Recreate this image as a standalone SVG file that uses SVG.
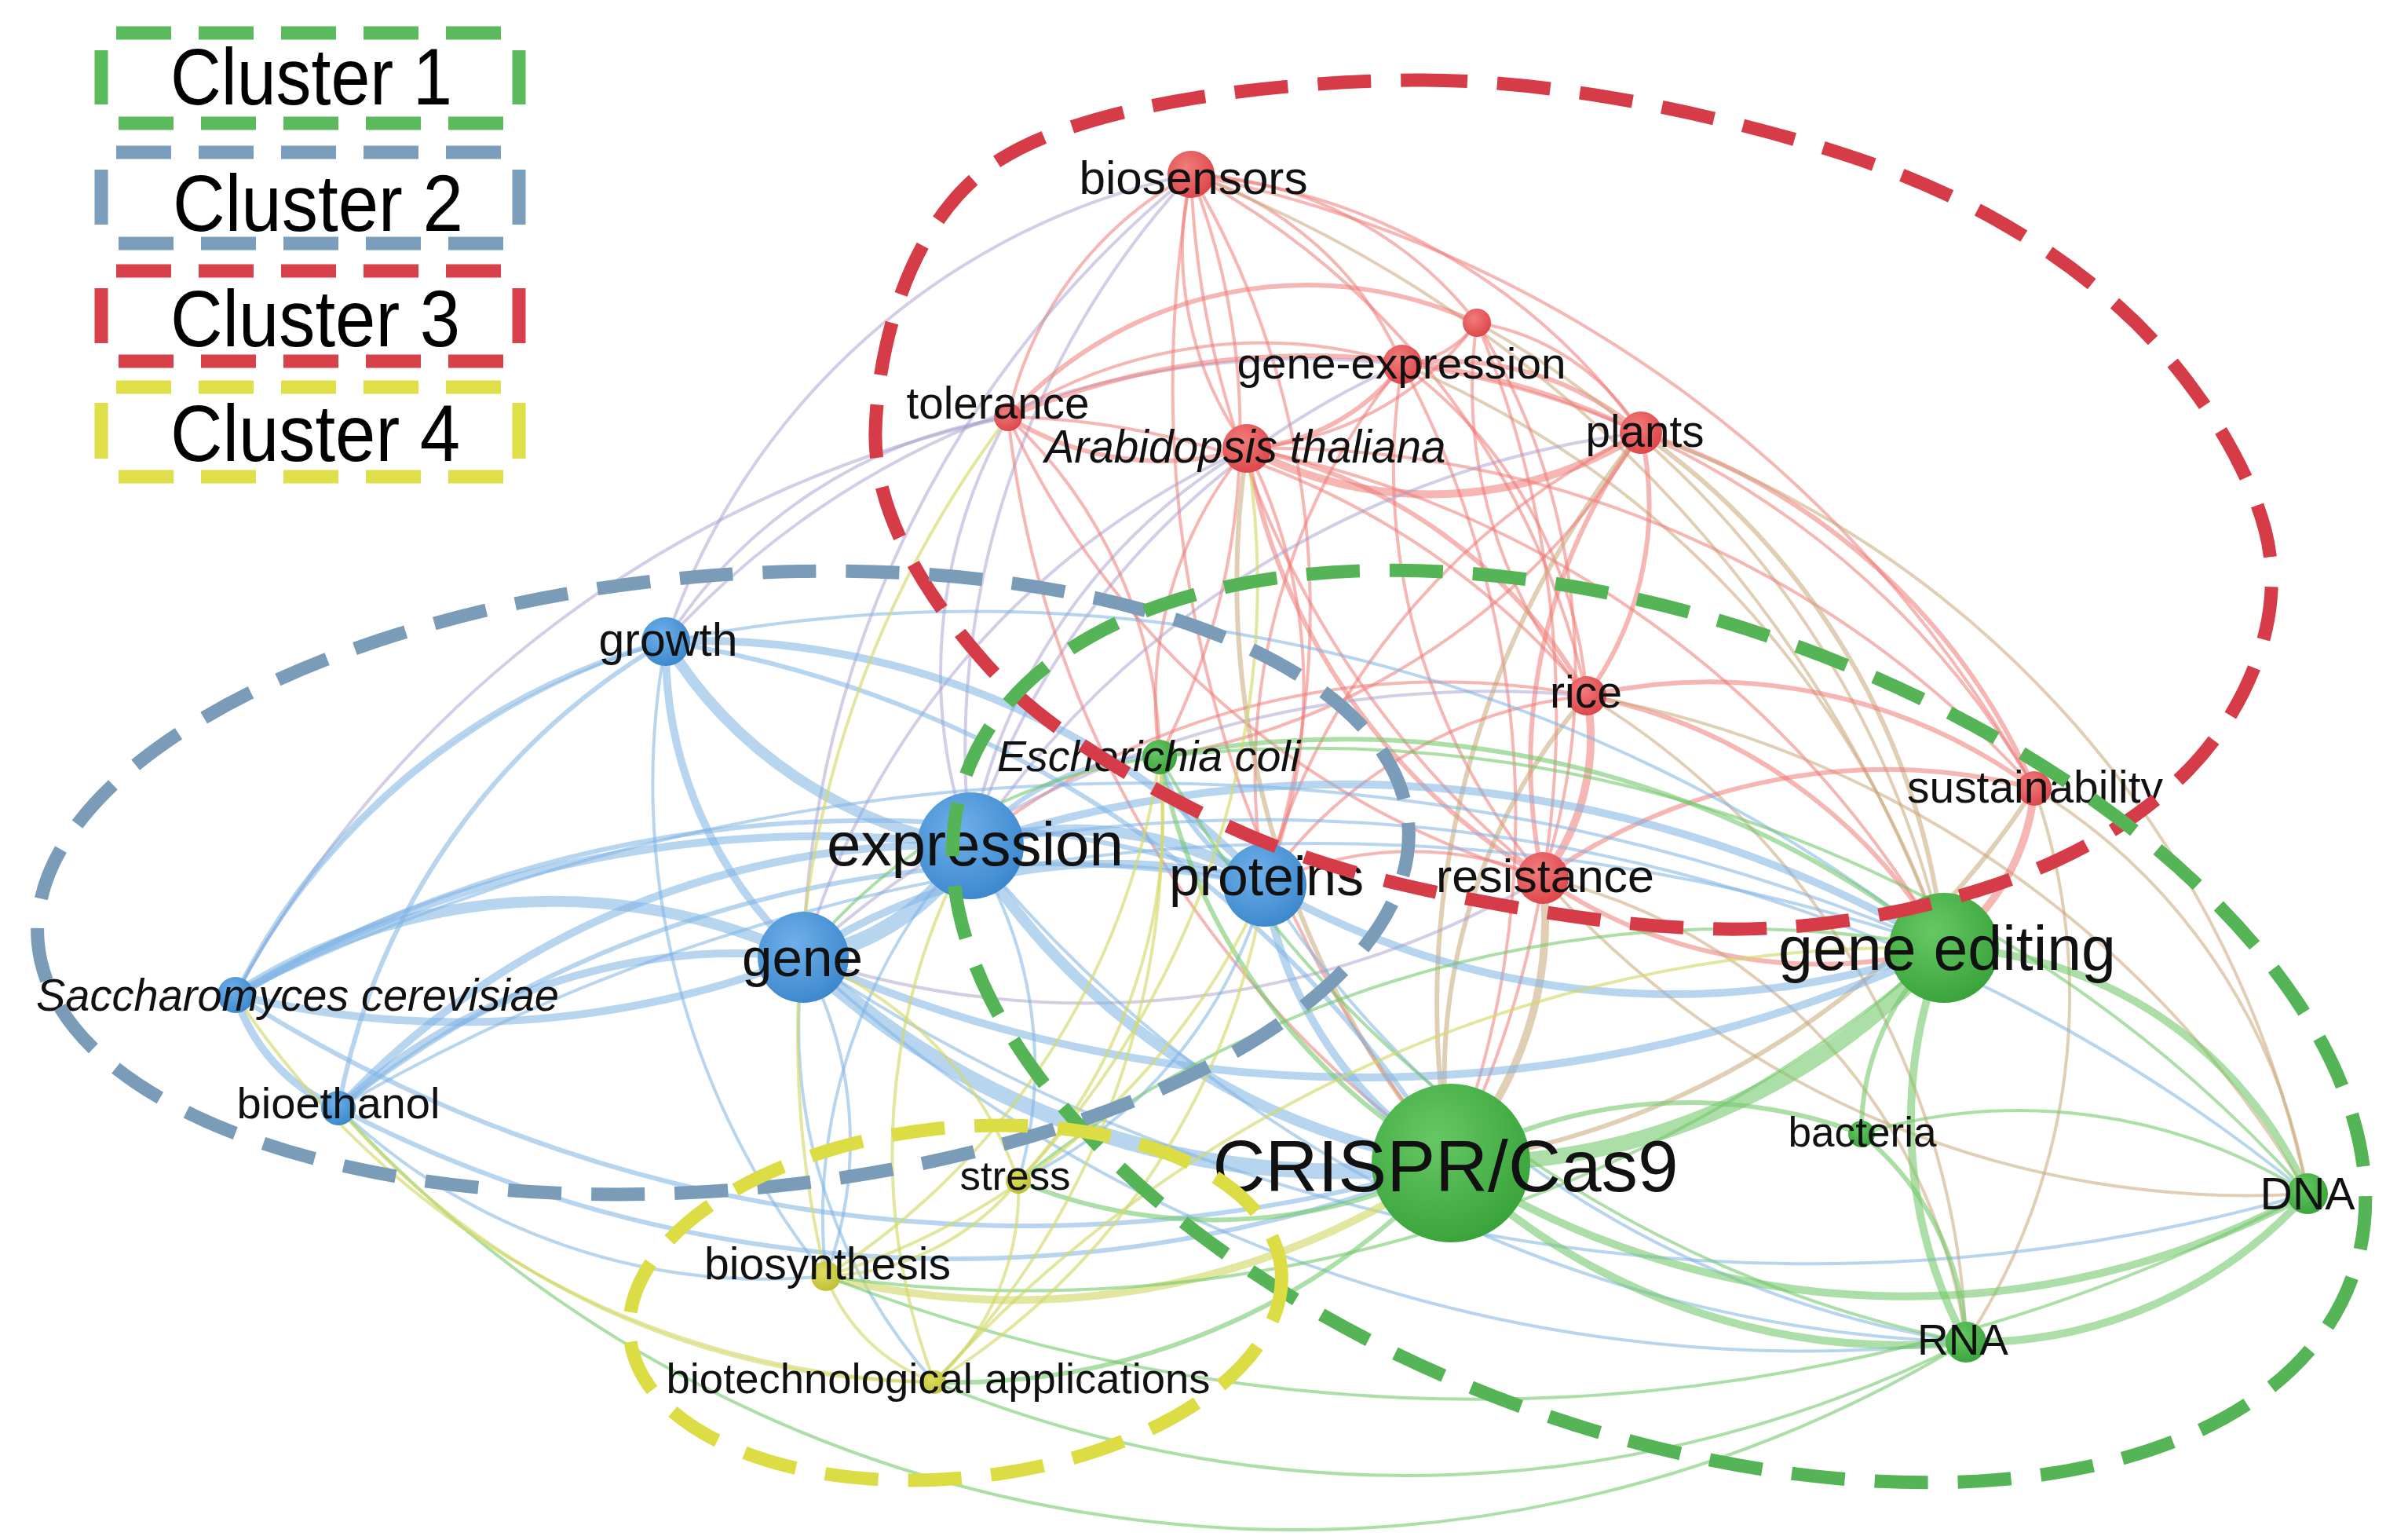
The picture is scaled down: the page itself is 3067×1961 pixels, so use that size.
<svg xmlns="http://www.w3.org/2000/svg" width="3067" height="1961" viewBox="0 0 3067 1961">
<defs>
<radialGradient id="gr" cx="0.4" cy="0.35" r="0.7"><stop offset="0" stop-color="#F27C7C"/><stop offset="1" stop-color="#DC4448"/></radialGradient>
<radialGradient id="gb" cx="0.4" cy="0.35" r="0.7"><stop offset="0" stop-color="#6FB0EA"/><stop offset="1" stop-color="#3A86CC"/></radialGradient>
<radialGradient id="gg" cx="0.4" cy="0.35" r="0.7"><stop offset="0" stop-color="#66C864"/><stop offset="1" stop-color="#38A23A"/></radialGradient>
<radialGradient id="gy" cx="0.4" cy="0.35" r="0.7"><stop offset="0" stop-color="#DEDE60"/><stop offset="1" stop-color="#BDBF34"/></radialGradient>
</defs>
<style>
text{font-family:"Liberation Sans",Arial,sans-serif;fill:#111;text-anchor:middle;}
.it{font-style:italic;}
.leg text{text-anchor:start;fill:#000;}
#edges path{fill:none;stroke-linecap:round;}
.er{stroke:#EE7A77;stroke-opacity:.55;}
.eb{stroke:#7DB3E4;stroke-opacity:.55;}
.eg{stroke:#74C86C;stroke-opacity:.6;}
.ey{stroke:#D3D96A;stroke-opacity:.65;}
.eo{stroke:#C9A878;stroke-opacity:.55;}
.ep{stroke:#A79BCB;stroke-opacity:.5;}
.w1{stroke-width:4;}
.w2{stroke-width:6;}
.w3{stroke-width:10;}
.w4{stroke-width:14;}
.w5{stroke-width:20;}
.nr{fill:url(#gr);}
.nb{fill:url(#gb);}
.ng{fill:url(#gg);}
.ny{fill:url(#gy);}
.cl{fill:none;stroke-width:17;stroke-dasharray:68 38;}
.ld{stroke-width:17;fill:none;}
.ldh{stroke-dasharray:70 35;}
</style>
<rect width="3067" height="1961" fill="#fff"/>

<g id="edges">
<path class="er w1" d="M1517 222A430 430 0 0 1 1786 464"/>
<path class="er w1" d="M1517 222A430 430 0 0 0 1588 571"/>
<path class="er w1" d="M1517 222A460 460 0 0 0 1284 531"/>
<path class="er w1" d="M1517 222A790 790 0 0 1 2090 551"/>
<path class="er w1" d="M1517 222A1000 1000 0 0 1 2021 886"/>
<path class="er w1" d="M1517 222A1200 1200 0 0 0 1965 1118"/>
<path class="er w1" d="M1517 222A490 490 0 0 1 1881 411"/>
<path class="ep w1" d="M1517 222A1080 1080 0 0 0 1236 1077"/>
<path class="er w1" d="M1517 222A1090 1090 0 0 1 1611 1127"/>
<path class="er w1" d="M1517 222A1560 1560 0 0 0 1848 1481"/>
<path class="eo w1" d="M1517 222A1650 1650 0 0 1 2476 1207"/>
<path class="ep w1" d="M1517 222A1330 1330 0 0 0 1023 1219"/>
<path class="er w1" d="M1517 222A890 890 0 0 1 1477 964"/>
<path class="er w1" d="M1517 222A1590 1590 0 0 1 2591 1004"/>
<path class="ep w1" d="M1517 222A900 900 0 0 0 848 817"/>
<path class="er w2" d="M1786 464A270 270 0 0 1 1588 571"/>
<path class="er w2" d="M1786 464A380 380 0 0 1 2090 551"/>
<path class="er w1" d="M1786 464A130 130 0 0 0 1881 411"/>
<path class="er w1" d="M1786 464A600 600 0 0 0 1284 531"/>
<path class="er w1" d="M1786 464A580 580 0 0 1 2021 886"/>
<path class="er w1" d="M1786 464A810 810 0 0 0 1965 1118"/>
<path class="ep w1" d="M1786 464A990 990 0 0 0 1236 1077"/>
<path class="er w1" d="M1786 464A1220 1220 0 0 1 1848 1481"/>
<path class="eo w1" d="M1786 464A1220 1220 0 0 1 2476 1207"/>
<path class="er w1" d="M1786 464A820 820 0 0 0 1611 1127"/>
<path class="ep w1" d="M1786 464A1100 1100 0 0 0 848 817"/>
<path class="er w1" d="M1786 464A1100 1100 0 0 1 2591 1004"/>
<path class="er w1" d="M1881 411A400 400 0 0 1 1588 571"/>
<path class="er w1" d="M1881 411A300 300 0 0 1 2090 551"/>
<path class="er w2" d="M1284 531A514 514 0 0 1 1881 411"/>
<path class="er w1" d="M1881 411A1280 1280 0 0 1 1848 1481"/>
<path class="er w1" d="M1881 411A850 850 0 0 1 1965 1118"/>
<path class="er w1" d="M1881 411A600 600 0 0 0 2021 886"/>
<path class="eo w1" d="M1881 411A1200 1200 0 0 1 2476 1207"/>
<path class="er w3" d="M1588 571A497 497 0 0 0 2090 551"/>
<path class="er w2" d="M1588 571A370 370 0 0 1 1284 531"/>
<path class="er w2" d="M1588 571A640 640 0 0 1 2021 886"/>
<path class="er w2" d="M1588 571A800 800 0 0 0 1965 1118"/>
<path class="ep w1" d="M1588 571A740 740 0 0 0 1236 1077"/>
<path class="er w1" d="M1588 571A670 670 0 0 1 1611 1127"/>
<path class="eo w2" d="M1588 571A1140 1140 0 0 0 1848 1481"/>
<path class="er w1" d="M1588 571A1310 1310 0 0 1 2476 1207"/>
<path class="ep w1" d="M1588 571A1030 1030 0 0 0 1023 1219"/>
<path class="er w1" d="M1588 571A1310 1310 0 0 1 2591 1004"/>
<path class="er w1" d="M1588 571A500 500 0 0 0 1477 964"/>
<path class="er w2" d="M1284 531A970 970 0 0 1 2090 551"/>
<path class="er w1" d="M1284 531A1080 1080 0 0 0 1965 1118"/>
<path class="er w1" d="M1284 531A980 980 0 0 1 2021 886"/>
<path class="er w1" d="M1284 531A1330 1330 0 0 0 1848 1481"/>
<path class="ep w1" d="M1284 531A660 660 0 0 0 1236 1077"/>
<path class="ep w1" d="M1284 531A630 630 0 0 0 848 817"/>
<path class="ep w1" d="M1284 531A1470 1470 0 0 0 300 1267"/>
<path class="er w1" d="M1284 531A600 600 0 0 1 1477 964"/>
<path class="er w2" d="M2090 551A410 410 0 0 1 2021 886"/>
<path class="er w2" d="M2090 551A700 700 0 0 0 1965 1118"/>
<path class="er w2" d="M2090 551A810 810 0 0 1 2591 1004"/>
<path class="eo w2" d="M2090 551A910 910 0 0 1 2476 1207"/>
<path class="eo w2" d="M2090 551A1150 1150 0 0 0 1848 1481"/>
<path class="er w1" d="M2090 551A900 900 0 0 0 1611 1127"/>
<path class="ep w1" d="M2090 551A1200 1200 0 0 0 1236 1077"/>
<path class="er w1" d="M2090 551A890 890 0 0 1 1477 964"/>
<path class="eo w1" d="M2090 551A1300 1300 0 0 1 2939 1520"/>
<path class="er w3" d="M2021 886A290 290 0 0 1 1965 1118"/>
<path class="er w2" d="M2021 886A700 700 0 0 1 2591 1004"/>
<path class="er w2" d="M2021 886A670 670 0 0 1 2476 1207"/>
<path class="eo w2" d="M2021 886A740 740 0 0 0 1848 1481"/>
<path class="er w1" d="M2021 886A570 570 0 0 0 1611 1127"/>
<path class="er w1" d="M2021 886A970 970 0 0 0 1236 1077"/>
<path class="eo w1" d="M2021 886A1340 1340 0 0 1 2939 1520"/>
<path class="ep w1" d="M2021 886A1300 1300 0 0 0 1023 1219"/>
<path class="eo w1" d="M2021 886A1000 1000 0 0 1 2504 1709"/>
<path class="er w2" d="M1965 1118A760 760 0 0 1 2591 1004"/>
<path class="er w2" d="M1965 1118A620 620 0 0 0 2476 1207"/>
<path class="eo w3" d="M1965 1118A460 460 0 0 1 1848 1481"/>
<path class="er w1" d="M1965 1118A430 430 0 0 0 1611 1127"/>
<path class="ep w1" d="M1965 1118A1140 1140 0 0 1 1023 1219"/>
<path class="eo w1" d="M1965 1118A1200 1200 0 0 0 2939 1520"/>
<path class="eo w1" d="M1965 1118A700 700 0 0 1 2504 1709"/>
<path class="er w3" d="M2591 1004A280 280 0 0 1 2476 1207"/>
<path class="eo w2" d="M2591 1004A1060 1060 0 0 1 1848 1481"/>
<path class="eo w1" d="M2591 1004A750 750 0 0 1 2939 1520"/>
<path class="eo w1" d="M2591 1004A800 800 0 0 1 2504 1709"/>

<path class="eb w4" d="M848 817A560 560 0 0 0 1236 1077"/>
<path class="eb w3" d="M848 817A530 530 0 0 0 1023 1219"/>
<path class="eb w3" d="M848 817A990 990 0 0 1 1611 1127"/>
<path class="eb w2" d="M848 817A850 850 0 0 0 300 1267"/>
<path class="eb w2" d="M848 817A870 870 0 0 0 431 1411"/>
<path class="eb w2" d="M848 817A1440 1440 0 0 1 1848 1481"/>
<path class="eb w1" d="M848 817A2000 2000 0 0 1 2476 1207"/>
<path class="eb w1" d="M848 817A1000 1000 0 0 0 1052 1625"/>
<path class="eb w5" d="M1236 1077A310 310 0 0 1 1023 1219"/>
<path class="eb w4" d="M1236 1077A450 450 0 0 1 1611 1127"/>
<path class="eb w3" d="M300 1267A1480 1480 0 0 1 1236 1077"/>
<path class="eb w3" d="M431 1411A1050 1050 0 0 1 1236 1077"/>
<path class="eb w4" d="M1236 1077A880 880 0 0 0 1848 1481"/>
<path class="eb w3" d="M1236 1077A1500 1500 0 0 1 2476 1207"/>
<path class="eb w2" d="M1236 1077A320 320 0 0 1 1477 964"/>
<path class="eb w1" d="M1236 1077A520 520 0 0 1 1297 1504"/>
<path class="eb w1" d="M1236 1077A690 690 0 0 0 1052 1625"/>
<path class="eb w1" d="M1236 1077A1700 1700 0 0 0 2504 1709"/>
<path class="eb w1" d="M1236 1077A2100 2100 0 0 1 2939 1520"/>
<path class="eb w3" d="M1023 1219A710 710 0 0 1 1611 1127"/>
<path class="eb w4" d="M300 1267A746 746 0 0 1 1023 1219"/>
<path class="eb w3" d="M300 1267A1200 1200 0 0 0 1023 1219"/>
<path class="eb w3" d="M431 1411A750 750 0 0 1 1023 1219"/>
<path class="eb w5" d="M1023 1219A990 990 0 0 0 1848 1481"/>
<path class="eb w3" d="M1023 1219A1740 1740 0 0 0 2476 1207"/>
<path class="eb w1" d="M1023 1219A490 490 0 0 1 1052 1625"/>
<path class="eb w1" d="M1023 1219A680 680 0 0 0 1190 1760"/>
<path class="eb w1" d="M1023 1219A2300 2300 0 0 0 2939 1520"/>
<path class="eb w1" d="M1023 1219A1870 1870 0 0 0 2504 1709"/>
<path class="eb w3" d="M1611 1127A510 510 0 0 0 1848 1481"/>
<path class="eb w3" d="M1611 1127A1040 1040 0 0 0 2476 1207"/>
<path class="eb w2" d="M1611 1127A250 250 0 0 1 1477 964"/>
<path class="eb w2" d="M300 1267A1580 1580 0 0 1 1611 1127"/>
<path class="eb w2" d="M431 1411A1460 1460 0 0 1 1611 1127"/>
<path class="eb w1" d="M1611 1127A1280 1280 0 0 0 2504 1709"/>
<path class="eb w1" d="M1611 1127A590 590 0 0 1 1297 1504"/>
<path class="eb w3" d="M300 1267A230 230 0 0 0 431 1411"/>
<path class="eb w2" d="M300 1267A1870 1870 0 0 0 1848 1481"/>
<path class="eb w1" d="M300 1267A2600 2600 0 0 1 2476 1207"/>
<path class="eb w2" d="M431 1411A1700 1700 0 0 0 1848 1481"/>
<path class="eb w1" d="M431 1411A790 790 0 0 0 1052 1625"/>
<path class="eb w1" d="M431 1411A2470 2470 0 0 1 2476 1207"/>
<path class="eb w1" d="M300 1267A900 900 0 0 1 848 817"/>

<path class="eg w5" d="M1848 1481A820 820 0 0 0 2476 1207"/>
<path class="eg w3" d="M1848 1481A1070 1070 0 0 0 2939 1520"/>
<path class="eg w3" d="M1848 1481A830 830 0 0 0 2504 1709"/>
<path class="eg w2" d="M1848 1481A630 630 0 0 1 2371 1444"/>
<path class="eg w2" d="M1848 1481A760 760 0 0 1 1477 964"/>
<path class="eg w2" d="M1848 1481A660 660 0 0 1 1297 1504"/>
<path class="ey w3" d="M1848 1481A970 970 0 0 1 1052 1625"/>
<path class="eg w2" d="M1848 1481A860 860 0 0 1 1190 1760"/>
<path class="eg w3" d="M2476 1207A520 520 0 0 1 2939 1520"/>
<path class="eg w3" d="M2476 1207A600 600 0 0 0 2504 1709"/>
<path class="eg w2" d="M2476 1207A310 310 0 0 0 2371 1444"/>
<path class="eg w2" d="M2476 1207A1230 1230 0 0 0 1477 964"/>
<path class="eg w1" d="M2476 1207A1460 1460 0 0 0 1297 1504"/>
<path class="eg w1" d="M2476 1207A1780 1780 0 0 1 1052 1625"/>
<path class="eg w3" d="M2504 1709A570 570 0 0 0 2939 1520"/>
<path class="eg w2" d="M2371 1444A360 360 0 0 1 2504 1709"/>
<path class="eg w1" d="M2371 1444A690 690 0 0 1 2939 1520"/>
<path class="eg w1" d="M1477 964A1520 1520 0 0 0 2504 1709"/>
<path class="eg w1" d="M1477 964A1700 1700 0 0 1 2939 1520"/>
<path class="eg w1" d="M2504 1709A1580 1580 0 0 1 1190 1760"/>
<path class="eg w1" d="M2939 1520A2270 2270 0 0 1 1052 1625"/>
<path class="eg w1" d="M1477 964A700 700 0 0 0 1023 1219"/>
<path class="eg w1" d="M431 1411A1650 1650 0 0 0 2504 1709"/>

<path class="ey w1" d="M1297 1504A330 330 0 0 1 1052 1625"/>
<path class="ey w1" d="M1297 1504A330 330 0 0 1 1190 1760"/>
<path class="ey w1" d="M1052 1625A230 230 0 0 0 1190 1760"/>
<path class="ey w1" d="M1190 1760A820 820 0 0 1 1236 1077"/>
<path class="ey w1" d="M1190 1760A910 910 0 0 0 1611 1127"/>
<path class="ey w1" d="M1190 1760A1020 1020 0 0 0 1477 964"/>
<path class="ey w1" d="M1297 1504A470 470 0 0 0 1023 1219"/>
<path class="ey w1" d="M1052 1625A900 900 0 0 0 1611 1127"/>
<path class="ey w1" d="M1052 1625A940 940 0 0 0 1477 964"/>
<path class="ey w1" d="M1297 1504A680 680 0 0 0 1477 964"/>
<path class="ey w1" d="M1190 1760A1680 1680 0 0 1 2476 1207"/>
<path class="ey w1" d="M1190 1760A1000 1000 0 0 1 431 1411"/>
<path class="ey w1" d="M1052 1625A1300 1300 0 0 1 1284 531"/>
<path class="ey w1" d="M1190 1760A1100 1100 0 0 1 300 1267"/>
<path class="ey w1" d="M1297 1504A1100 1100 0 0 0 1588 571"/>
</g>

<g id="n-biosensors"><circle class="nr" cx="1517" cy="222" r="30"/><text x="1520" y="247" font-size="60" textLength="291" lengthAdjust="spacingAndGlyphs">biosensors</text></g>
<g id="n-red-small"><circle class="nr" cx="1881" cy="411" r="18"/></g>
<g id="n-gene-expression"><circle class="nr" cx="1786" cy="464" r="25"/><text x="1785" y="482" font-size="56" textLength="419" lengthAdjust="spacingAndGlyphs">gene-expression</text></g>
<g id="n-tolerance"><circle class="nr" cx="1284" cy="531" r="18"/><text x="1271" y="533" font-size="57" textLength="233" lengthAdjust="spacingAndGlyphs">tolerance</text></g>
<g id="n-arabidopsis"><circle class="nr" cx="1588" cy="571" r="31"/><text class="it" x="1586" y="589" font-size="60" textLength="511" lengthAdjust="spacingAndGlyphs">Arabidopsis thaliana</text></g>
<g id="n-plants"><circle class="nr" cx="2090" cy="551" r="27"/><text x="2095" y="569" font-size="57" textLength="151" lengthAdjust="spacingAndGlyphs">plants</text></g>
<g id="n-rice"><circle class="nr" cx="2021" cy="886" r="25"/><text x="2020" y="901" font-size="57" textLength="92" lengthAdjust="spacingAndGlyphs">rice</text></g>
<g id="n-sustainability"><circle class="nr" cx="2591" cy="1004" r="22"/><text x="2592" y="1022" font-size="57" textLength="326" lengthAdjust="spacingAndGlyphs">sustainability</text></g>
<g id="n-resistance"><circle class="nr" cx="1965" cy="1118" r="33"/><text x="1968" y="1136" font-size="60" textLength="278" lengthAdjust="spacingAndGlyphs">resistance</text></g>

<g id="n-growth"><circle class="nb" cx="848" cy="817" r="31"/><text x="851" y="835" font-size="59" textLength="177" lengthAdjust="spacingAndGlyphs">growth</text></g>
<g id="n-expression"><circle class="nb" cx="1236" cy="1077" r="68"/><text x="1242" y="1102" font-size="78" textLength="378" lengthAdjust="spacingAndGlyphs">expression</text></g>
<g id="n-proteins"><circle class="nb" cx="1611" cy="1127" r="53"/><text x="1613" y="1140" font-size="70" textLength="248" lengthAdjust="spacingAndGlyphs">proteins</text></g>
<g id="n-gene"><circle class="nb" cx="1023" cy="1219" r="58"/><text x="1022" y="1243" font-size="69" textLength="154" lengthAdjust="spacingAndGlyphs">gene</text></g>
<g id="n-saccharomyces"><circle class="nb" cx="300" cy="1267" r="23"/><text class="it" x="379" y="1287" font-size="56.5" textLength="666" lengthAdjust="spacingAndGlyphs">Saccharomyces cerevisiae</text></g>
<g id="n-bioethanol"><circle class="nb" cx="431" cy="1411" r="22"/><text x="431" y="1424" font-size="56" textLength="259" lengthAdjust="spacingAndGlyphs">bioethanol</text></g>

<g id="n-ecoli"><circle class="ng" cx="1477" cy="964" r="22"/><text class="it" x="1463" y="982" font-size="55.6" textLength="386" lengthAdjust="spacingAndGlyphs">Escherichia coli</text></g>
<g id="n-gene-editing"><circle class="ng" cx="2476" cy="1207" r="70"/><text x="2480" y="1235" font-size="79" textLength="430" lengthAdjust="spacingAndGlyphs">gene editing</text></g>
<g id="n-crispr"><circle class="ng" cx="1848" cy="1481" r="101"/><text x="1841" y="1517" font-size="92" textLength="593" lengthAdjust="spacingAndGlyphs">CRISPR/Cas9</text></g>
<g id="n-bacteria"><circle class="ng" cx="2371" cy="1444" r="17"/><text x="2372" y="1460" font-size="53" textLength="189" lengthAdjust="spacingAndGlyphs">bacteria</text></g>
<g id="n-dna"><circle class="ng" cx="2939" cy="1520" r="26"/><text x="2939" y="1540" font-size="58" textLength="121" lengthAdjust="spacingAndGlyphs">DNA</text></g>
<g id="n-rna"><circle class="ng" cx="2504" cy="1709" r="26"/><text x="2500" y="1725" font-size="55" textLength="116" lengthAdjust="spacingAndGlyphs">RNA</text></g>

<g id="n-stress"><circle class="ny" cx="1297" cy="1504" r="16"/><text x="1293" y="1515" font-size="52" textLength="141" lengthAdjust="spacingAndGlyphs">stress</text></g>
<g id="n-biosynthesis"><circle class="ny" cx="1052" cy="1625" r="19"/><text x="1054" y="1629" font-size="57" textLength="314" lengthAdjust="spacingAndGlyphs">biosynthesis</text></g>
<g id="n-biotech"><circle class="ny" cx="1190" cy="1760" r="15"/><text x="1195" y="1774" font-size="54.4" textLength="693" lengthAdjust="spacingAndGlyphs">biotechnological applications</text></g>

<g id="clusters">
<path id="cluster3" class="cl" stroke="#D63C47" d="M1801 102C1980 100 2197 148 2347 196C2497 244 2609 311 2699 391C2789 471 2862 587 2885 675C2908 763 2880 849 2836 919C2792 989 2716 1051 2621 1095C2527 1139 2393 1173 2269 1181C2145 1190 1999 1169 1878 1146C1757 1123 1649 1094 1545 1043C1441 992 1324 924 1252 841C1180 759 1112 654 1115 548C1118 442 1157 279 1271 205C1385 131 1622 104 1801 102Z"/>
<ellipse id="cluster2" class="cl" stroke="#7A9CB9" cx="921" cy="1124" rx="876" ry="391" transform="rotate(-5 921 1124)"/>
<ellipse id="cluster1" class="cl" stroke="#55B455" cx="2113" cy="1307" rx="939" ry="515" transform="rotate(20 2113 1307)"/>
<ellipse id="cluster4" class="cl" stroke="#DCDC45" cx="1217" cy="1659" rx="417" ry="223" transform="rotate(-6 1217 1659)"/>
</g>

<g id="legend" class="leg">
<g stroke="#5BBA5B">
<line class="ld ldh" x1="148" y1="42" x2="640" y2="42"/>
<line class="ld ldh" x1="151" y1="157" x2="643" y2="157"/>
<line class="ld" x1="129" y1="64" x2="129" y2="133"/>
<line class="ld" x1="661" y1="64" x2="661" y2="133"/>
</g>
<text x="217" y="133" font-size="102" textLength="359" lengthAdjust="spacingAndGlyphs">Cluster 1</text>
<g stroke="#7A9EBC">
<line class="ld ldh" x1="148" y1="194" x2="640" y2="194"/>
<line class="ld ldh" x1="151" y1="310" x2="643" y2="310"/>
<line class="ld" x1="129" y1="216" x2="129" y2="286"/>
<line class="ld" x1="661" y1="216" x2="661" y2="286"/>
</g>
<text x="220" y="294" font-size="102" textLength="370" lengthAdjust="spacingAndGlyphs">Cluster 2</text>
<g stroke="#D8404A">
<line class="ld ldh" x1="148" y1="345" x2="640" y2="345"/>
<line class="ld ldh" x1="151" y1="460" x2="643" y2="460"/>
<line class="ld" x1="129" y1="367" x2="129" y2="437"/>
<line class="ld" x1="661" y1="367" x2="661" y2="437"/>
</g>
<text x="217" y="441" font-size="102" textLength="369" lengthAdjust="spacingAndGlyphs">Cluster 3</text>
<g stroke="#DFDF4A">
<line class="ld ldh" x1="148" y1="493" x2="640" y2="493"/>
<line class="ld ldh" x1="151" y1="607" x2="643" y2="607"/>
<line class="ld" x1="129" y1="513" x2="129" y2="584"/>
<line class="ld" x1="661" y1="513" x2="661" y2="584"/>
</g>
<text x="217" y="587" font-size="102" textLength="369" lengthAdjust="spacingAndGlyphs">Cluster 4</text>
</g>
</svg>
